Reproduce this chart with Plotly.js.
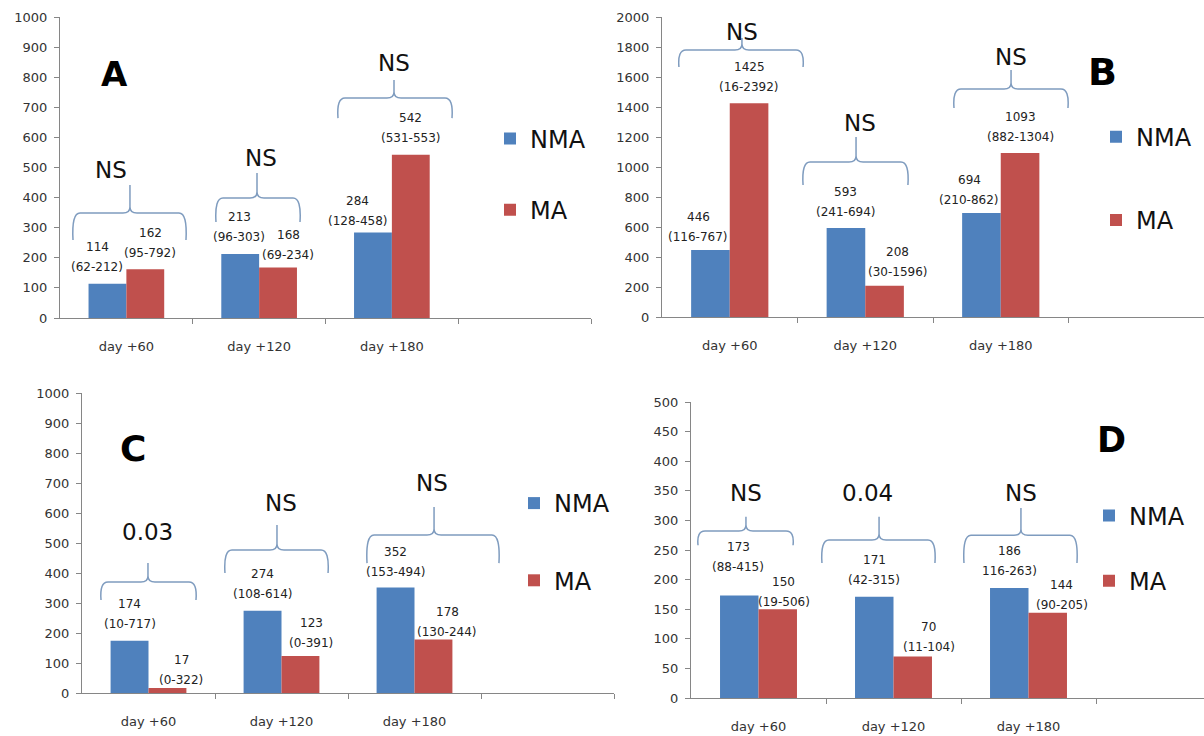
<!DOCTYPE html>
<html><head><meta charset="utf-8">
<script src="https://cdn.plot.ly/plotly-3.0.1.min.js"></script>
<style>html,body{margin:0;padding:0;background:#fff}</style>
</head><body><div id="chart" style="width:1204px;height:736px"></div>
<script>
// ---------- DATA ----------
const days = ['day +60', 'day +120', 'day +180'];
const seriesNames = ['NMA', 'MA'];

const A_NMA = [114, 213, 284];
const A_MA = [162, 168, 542];
const A_NMA_range = ['(62-212)', '(96-303)', '(128-458)'];
const A_MA_range = ['(95-792)', '(69-234)', '(531-553)'];
const A_p = ['NS', 'NS', 'NS'];

const B_NMA = [446, 593, 694];
const B_MA = [1425, 208, 1093];
const B_NMA_range = ['(116-767)', '(241-694)', '(210-862)'];
const B_MA_range = ['(16-2392)', '(30-1596)', '(882-1304)'];
const B_p = ['NS', 'NS', 'NS'];

const C_NMA = [174, 274, 352];
const C_MA = [17, 123, 178];
const C_NMA_range = ['(10-717)', '(108-614)', '(153-494)'];
const C_MA_range = ['(0-322)', '(0-391)', '(130-244)'];
const C_p = ['0.03', 'NS', 'NS'];

const D_NMA = [173, 171, 186];
const D_MA = [150, 70, 144];
const D_NMA_range = ['(88-415)', '(42-315)', '116-263)'];
const D_MA_range = ['(19-506)', '(11-104)', '(90-205)'];
const D_p = ['NS', '0.04', 'NS'];

// ---------- LAYOUT / STYLE ----------
const W = 1204, H = 736;
const BLUE = '#4f81bd', RED = '#c0504d', AXIS = '#868686', BRACE = '#7f9cbf';
const FONT = 'DejaVu Sans';
const BARGAP = 0.43;

const panels = [
  {key: 'A', nma: A_NMA, ma: A_MA, nr: A_NMA_range, mr: A_MA_range, p: A_p,
   xdom: [60, 591], ydom: [17, 318], yr: [0, 1000], dtick: 100, xr: [-0.5, 3.5],
   letter: {x: 114, y: 74, size: 34},
   leg: {x: 490, y: 174.5, gap: 37},
   nOff: [[-10, 17], [-1, 17], [-15, 12]], mOff: [[5, 16], [10, 12], [0, 17]],
   braces: [[-0.402, 0.449, 0.027, 259, 349, 442], [0.675, 1.308, 0.984, 319, 399, 482], [1.594, 2.453, 2.016, 664, 731, 791]],
   pPos: [[-0.116, 492], [1.014, 532], [2.016, 847]]},
  {key: 'B', nma: B_NMA, ma: B_MA, nr: B_NMA_range, mr: B_MA_range, p: B_p,
   xdom: [662, 1204], ydom: [17, 317], yr: [0, 2000], dtick: 200, xr: [-0.5, 3.5],
   letter: {x: 1102, y: 72, size: 38},
   leg: {x: 1096, y: 178.75, gap: 49},
   nOff: [[-12, 13], [0, 16], [-12, 13]], mOff: [[0, 16], [13, 14], [0, 16]],
   braces: [[-0.375, 0.541, 0.090, 1667, 1780, 1860], [0.541, 1.315, 0.932, 880, 1033, 1200], [1.655, 2.496, 2.076, 1393, 1520, 1647]],
   pPos: [[0.09, 1900], [0.961, 1293], [2.076, 1733]]},
  {key: 'C', nma: C_NMA, ma: C_MA, nr: C_NMA_range, mr: C_MA_range, p: C_p,
   xdom: [82, 614], ydom: [393, 693], yr: [0, 1000], dtick: 100, xr: [-0.5, 3.5],
   letter: {x: 133, y: 448, size: 36},
   leg: {x: 514, y: 542, gap: 43},
   nOff: [[0, 17], [0, 17], [0, 15]], mOff: [[14, 8], [11, 13], [14, 8]],
   braces: [[-0.357, 0.357, -0.004, 310, 370, 433], [0.575, 1.350, 0.966, 400, 477, 560], [1.643, 2.635, 2.147, 433, 527, 620]],
   pPos: [[-0.011, 537], [0.996, 633], [2.132, 700]]},
  {key: 'D', nma: D_NMA, ma: D_MA, nr: D_NMA_range, mr: D_MA_range, p: D_p,
   xdom: [691, 1204], ydom: [402, 698], yr: [0, 500], dtick: 50, xr: [-0.5, 3.3],
   letter: {x: 1111, y: 440, size: 35},
   leg: {x: 1089, y: 548.5, gap: 31},
   nOff: [[-1, 29], [0, 17], [0, 17]], mOff: [[6, 7], [16, 10], [14, 8]],
   braces: [[-0.448, 0.256, -0.093, 258, 282, 306], [0.470, 1.307, 0.893, 228, 267, 306], [1.522, 2.359, 1.944, 228, 275, 321]],
   pPos: [[-0.093, 346], [0.811, 346], [1.944, 346]]}
];

const traces = [];
const layout = {
  width: W, height: H, margin: {l: 0, r: 0, t: 0, b: 0},
  paper_bgcolor: '#fff', plot_bgcolor: 'rgba(0,0,0,0)',
  barmode: 'group', bargap: BARGAP, bargroupgap: 0,
  font: {family: FONT, color: '#222'},
  showlegend: true, annotations: [], shapes: []
};

const xIdx = days.map((d, i) => i);
const barOff = (1 - BARGAP) / 4;

function bracePath(b, pxX, pxY) {
  const [x0, x1, xc, yb, ym, yt] = b;
  const rx = 7 / pxX, ry = 6 / pxY, bow = 1.5 / pxX;
  return `M${x0},${yb} Q${x0 - bow},${ym} ${x0 + rx},${ym} L${xc - rx},${ym} Q${xc},${ym} ${xc},${ym + ry} L${xc},${yt} ` +
         `M${xc},${ym + ry} Q${xc},${ym} ${xc + rx},${ym} L${x1 - rx},${ym} Q${x1 + bow},${ym} ${x1},${yb}`;
}

panels.forEach((P, k) => {
  const sfx = k === 0 ? '' : String(k + 1);
  const xa = 'x' + sfx, ya = 'y' + sfx, lg = 'legend' + sfx;
  const pxX = (P.xdom[1] - P.xdom[0]) / (P.xr[1] - P.xr[0]);
  const pxY = (P.ydom[1] - P.ydom[0]) / (P.yr[1] - P.yr[0]);

  traces.push({type: 'bar', x: xIdx, y: P.nma, name: seriesNames[0], marker: {color: BLUE},
    xaxis: xa, yaxis: ya, legend: lg, legendgroup: P.key + 'n', hoverinfo: 'skip'});
  traces.push({type: 'bar', x: xIdx, y: P.ma, name: seriesNames[1], marker: {color: RED},
    xaxis: xa, yaxis: ya, legend: lg, legendgroup: P.key + 'm', hoverinfo: 'skip'});

  layout['xaxis' + sfx] = {
    domain: [P.xdom[0] / W, P.xdom[1] / W], anchor: ya, range: P.xr, type: 'linear',
    tickmode: 'array', tickvals: xIdx, ticktext: days, ticks: '',
    minor: {tickmode: 'array', tickvals: [0.5, 1.5, 2.5, 3.5].filter(v => v <= P.xr[1]), ticks: 'outside', ticklen: 5, tickcolor: AXIS, tickwidth: 1, showgrid: false},
    showline: true, linecolor: AXIS, linewidth: 1, showgrid: false, zeroline: false,
    tickfont: {family: FONT, size: 13, color: '#333'}, ticklabelstandoff: 16, fixedrange: true
  };
  layout['yaxis' + sfx] = {
    domain: [1 - P.ydom[1] / H, 1 - P.ydom[0] / H], anchor: xa, range: P.yr,
    tickmode: 'linear', tick0: 0, dtick: P.dtick, ticks: 'outside', ticklen: 5, tickcolor: AXIS,
    showline: true, linecolor: AXIS, linewidth: 1, showgrid: false, zeroline: false,
    tickfont: {family: FONT, size: 13, color: '#333'}, ticklabelstandoff: 4, fixedrange: true
  };
  layout[lg] = {
    x: P.leg.x / W, xanchor: 'left', y: 1 - P.leg.y / H, yanchor: 'middle',
    traceorder: 'grouped', tracegroupgap: P.leg.gap, bgcolor: 'rgba(0,0,0,0)',
    font: {family: FONT, size: 24, color: '#111'}, itemclick: false, itemdoubleclick: false
  };

  // panel letter
  layout.annotations.push({xref: 'paper', yref: 'paper', x: P.letter.x / W, y: 1 - P.letter.y / H,
    text: '<b>' + P.key + '</b>', showarrow: false, xanchor: 'center', yanchor: 'middle',
    font: {family: FONT, size: P.letter.size, color: '#000'}});

  // data labels
  const addLabels = (vals, ranges, offs, sign) => {
    vals.forEach((v, i) => {
      const base = {xref: xa, yref: ya, x: i + sign * barOff, y: v, showarrow: false,
        xanchor: 'center', yanchor: 'middle', xshift: offs[i][0], font: {family: FONT, size: 12, color: '#222'}};
      layout.annotations.push(Object.assign({}, base, {text: String(v), yshift: offs[i][1] + 20}));
      layout.annotations.push(Object.assign({}, base, {text: ranges[i], yshift: offs[i][1]}));
    });
  };
  addLabels(P.nma, P.nr, P.nOff, -1);
  addLabels(P.ma, P.mr, P.mOff, 1);

  // significance text and braces
  P.p.forEach((t, i) => {
    layout.annotations.push({xref: xa, yref: ya, x: P.pPos[i][0], y: P.pPos[i][1], text: t,
      showarrow: false, xanchor: 'center', yanchor: 'middle', font: {family: FONT, size: 23, color: '#111'}});
    layout.shapes.push({type: 'path', xref: xa, yref: ya, path: bracePath(P.braces[i], pxX, pxY),
      line: {color: BRACE, width: 1.5}, layer: 'above'});
  });
});

Plotly.newPlot('chart', traces, layout, {staticPlot: true, displayModeBar: false});
</script>
</body></html>
